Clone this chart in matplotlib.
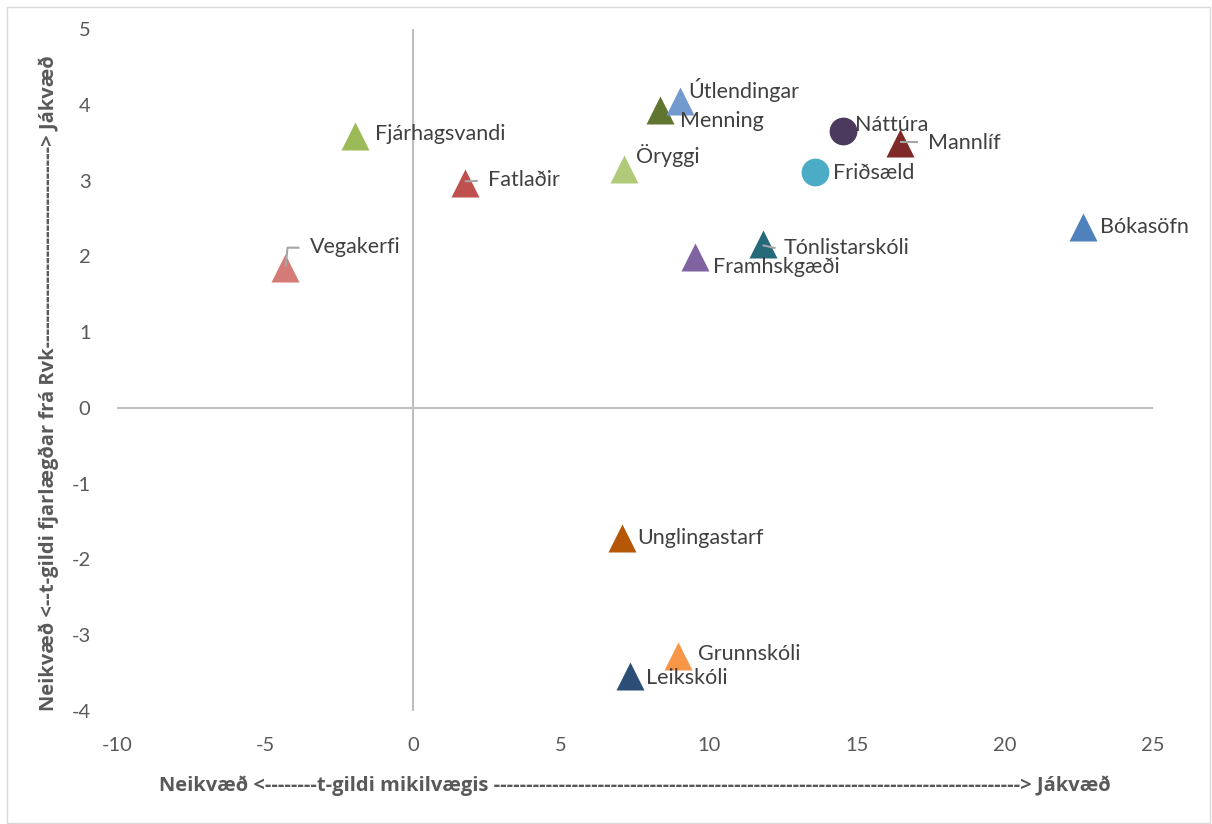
import matplotlib
matplotlib.use('Agg')
import matplotlib.pyplot as plt
from matplotlib.patches import Rectangle

plt.rcParams['axes.unicode_minus'] = False

# gögn
heiti = ['Fjárhagsvandi', 'Fatlaðir', 'Vegakerfi', 'Öryggi', 'Menning', 'Útlendingar',
         'Náttúra', 'Mannlíf', 'Friðsæld', 'Bókasöfn', 'Tónlistarskóli', 'Framhskgæði',
         'Unglingastarf', 'Grunnskóli', 'Leikskóli']
t_mikilvaegi = [-1.96, 1.75, -4.34, 7.12, 8.34, 9.01, 14.53, 16.44, 13.57, 22.65,
                11.81, 9.52, 7.05, 8.96, 7.32]
t_fjarlaegd = [3.59, 2.97, 1.85, 3.15, 3.93, 4.05, 3.65, 3.50, 3.11, 2.39,
               2.16, 1.99, -1.72, -3.27, -3.54]
x_ticks = [-10, -5, 0, 5, 10, 15, 20, 25]
y_ticks = [-4, -3, -2, -1, 0, 1, 2, 3, 4, 5]

litir = ['#9BBB59', '#C0504D', '#D47A77', '#AFCB7A', '#5F7530', '#729ACF',
         '#4B3A5E', '#7F2A28', '#4BACC6', '#4F81BD', '#246A7A', '#8064A2',
         '#B65708', '#F79646', '#2C4D75']
merki = ['^', '^', '^', '^', '^', '^', 'o', '^', 'o', '^', '^', '^', '^', '^', '^']
# staðsetning merkja (pixlar frá punkti)
hlidrun = [(20, 1.5), (23, 2.5), (25, 20.5), (12, 14), (20, -11), (9, 11),
           (12, 6), (28, 0), (18, -0.5), (17, 0), (21, -4), (18, -9.5),
           (16, 0), (19.5, 1.5), (16, -1.5)]
leidarar = {'Vegakerfi': [(1, 1), (3, 20), (15, 20)],
            'Fatlaðir': [(0, 1.5), (13, 2)],
            'Mannlíf': [(0, 0.5), (18, 0.5)],
            'Tónlistarskóli': [(0, -1), (13, -4)]}

W, H = 1212, 824
fig = plt.figure(figsize=(W / 100, H / 100), dpi=100)
ax = fig.add_axes([117 / W, 1 - 711 / H, (1153 - 117) / W, (711 - 29) / H])

ax.set_xlim(-10, 25)
ax.set_ylim(-4, 5)
for s in ax.spines.values():
    s.set_visible(False)
ax.axhline(0, color='#BFBFBF', lw=1.5, zorder=1)
ax.axvline(0, color='#BFBFBF', lw=1.5, zorder=1)

ax.set_xticks(x_ticks)
ax.set_yticks(y_ticks)
ax.tick_params(length=0, labelsize=14.5, labelcolor='#595959')
ax.tick_params(axis='x', pad=19)
ax.tick_params(axis='y', pad=19)
for lab in ax.get_xticklabels() + ax.get_yticklabels():
    lab.set_family('Lato')

inv = ax.transData.inverted()
for i in range(len(heiti)):
    x, y = t_mikilvaegi[i], t_fjarlaegd[i]
    ax.plot(x, y, marker=merki[i], ms=20, color=litir[i], mec='none',
            ls='none', zorder=3, clip_on=False)
    dx, dy = hlidrun[i]
    ax.annotate(heiti[i], (x, y), xytext=(dx, dy), textcoords='offset pixels',
                ha='left', va='center', fontsize=15.5, color='#404040',
                family='Lato', zorder=5)
    if heiti[i] in leidarar:
        px, py = ax.transData.transform((x, y))
        pts = [inv.transform((px + a, py + b)) for a, b in leidarar[heiti[i]]]
        ax.plot([p[0] for p in pts], [p[1] for p in pts], color='#A6A6A6',
                lw=1.5, zorder=4, solid_capstyle='butt')

titill = dict(fontsize=14.5, fontweight='bold', color='#595959', family='Open Sans')
xl = ax.set_xlabel('x', labelpad=15, **titill)
yl = ax.set_ylabel('y', **titill)
ax.yaxis.set_label_coords(-0.056, 0.481)

# fjöldi strika valinn svo lengd textans passi
r = fig.canvas.get_renderer()
def fylla(t, fyrir, eftir, lengd, langs):
    n = 1
    while True:
        t.set_text(fyrir + '-' * n + eftir)
        bb = t.get_window_extent(r)
        if (bb.width if langs else bb.height) >= lengd:
            break
        n += 1

fylla(xl, 'Neikvæð <--------t-gildi mikilvægis ', '> Jákvæð', 948, True)
fylla(yl, 'Neikvæð <--t-gildi fjarlægðar frá Rvk', '> Jákvæð', 651, False)

fig.patches.append(Rectangle((7 / W, 1 / H), 1203 / W, 1 - 8 / H, transform=fig.transFigure,
                             fill=False, ec='#D9D9D9', lw=1))

fig.savefig('out.png', dpi=100)
